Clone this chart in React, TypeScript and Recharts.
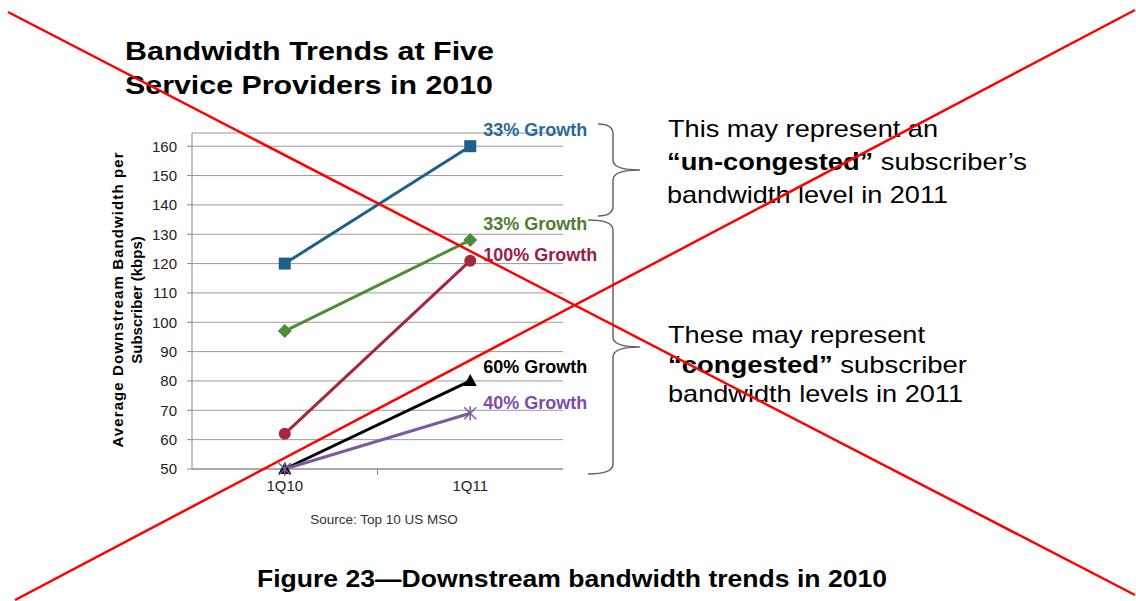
import React from 'react';
import { LineChart, Line, XAxis, YAxis, CartesianGrid } from 'recharts';

const categories = ['1Q10', '1Q11'];
const uncongestedValues = [120, 160];
const greenValues = [97, 128];
const redValues = [62, 121];
const blackValues = [50, 80];
const purpleValues = [50, 69];
const growthLabels = ['33% Growth', '33% Growth', '100% Growth', '60% Growth', '40% Growth'];
const yTicks = [50, 60, 70, 80, 90, 100, 110, 120, 130, 140, 150, 160];

const FONT = '"Liberation Sans", Arial, sans-serif';

const W = 1136;
const H = 601;
const MARGIN = { top: 133, right: 573, bottom: 102, left: 132 };
const Y_AXIS_W = 60;
const X_AXIS_H = 30;
const PLOT_X = MARGIN.left + Y_AXIS_W;
const PLOT_W = W - PLOT_X - MARGIN.right;
const PLOT_BOTTOM = H - MARGIN.bottom - X_AXIS_H;

const data = categories.map((c, i) => ({
  cat: c,
  blue: uncongestedValues[i],
  green: greenValues[i],
  red: redValues[i],
  black: blackValues[i],
  purple: purpleValues[i],
}));

const C = {
  blue: '#1F5F8A',
  green: '#4F8C3A',
  red: '#A2283C',
  black: '#000000',
  purple: '#7A5BA0',
  blueText: '#2B6A9A',
  greenText: '#4E7D30',
  redText: '#9A1B4C',
  blackText: '#000000',
  purpleText: '#7D4DAE',
};

const SquareDot = (p: any) => (p.cx == null ? null : <rect x={p.cx - 6} y={p.cy - 6} width={12} height={12} fill={C.blue} />);
const DiamondDot = (p: any) =>
  p.cx == null ? null : (
    <path d={`M${p.cx},${p.cy - 7} L${p.cx + 7},${p.cy} L${p.cx},${p.cy + 7} L${p.cx - 7},${p.cy} Z`} fill={C.green} />
  );
const CircleDot = (p: any) => (p.cx == null ? null : <circle cx={p.cx} cy={p.cy} r={6} fill={C.red} />);
const TriDot = (p: any) =>
  p.cx == null ? null : (
    <path d={`M${p.cx},${p.cy - 7} L${p.cx + 6.5},${p.cy + 5} L${p.cx - 6.5},${p.cy + 5} Z`} fill={C.black} />
  );
const StarDot = (p: any) =>
  p.cx == null ? null : (
    <g stroke={C.purple} strokeWidth={1.5}>
      <line x1={p.cx - 6} y1={p.cy - 6} x2={p.cx + 6} y2={p.cy + 6} />
      <line x1={p.cx - 6} y1={p.cy + 6} x2={p.cx + 6} y2={p.cy - 6} />
      <line x1={p.cx} y1={p.cy - 7} x2={p.cx} y2={p.cy + 7} />
    </g>
  );

const makeLabel = (text: string, color: string, dy: number) => (p: any) => {
  if (p.index !== 1) return null;
  return (
    <text
      x={p.x + 13}
      y={p.y + dy}
      fill={color}
      fontFamily={FONT}
      fontWeight="bold"
      fontSize={18}
      dominantBaseline="central"
    >
      {text}
    </text>
  );
};

const XTick = (p: any) => (
  <text x={p.x} y={p.y + 14} textAnchor="middle" fill="#222" fontFamily={FONT} fontSize={15}>
    {p.payload.value}
  </text>
);

const boundaryXs = categories.slice(1).map((_, i) => PLOT_X + (PLOT_W * (i + 1)) / categories.length);

const brace = (x0: number, xv: number, xt: number, y0: number, ym: number, y1: number) => {
  const r = 10;
  return `M${x0},${y0} Q${xv},${y0} ${xv},${y0 + r} L${xv},${ym - r} Q${xv},${ym} ${xt},${ym} Q${xv},${ym} ${xv},${ym + r} L${xv},${y1 - r} Q${xv},${y1} ${x0},${y1}`;
};

export default function App() {
  return (
    <div style={{ position: 'absolute', left: 0, top: 0, width: W, height: H, background: '#fff', fontFamily: FONT }}>
      <LineChart width={W} height={H} data={data} margin={MARGIN}>
        <CartesianGrid horizontal vertical={false} stroke="#9a9a9a" />
        <XAxis
          dataKey="cat"
          scale="band"
          height={X_AXIS_H}
          axisLine={{ stroke: '#888' }}
          tickLine={false}
          tick={<XTick />}
          interval={0}
        />
        <YAxis
          width={Y_AXIS_W}
          domain={[50, 164.5]}
          ticks={yTicks}
          interval={0}
          axisLine={{ stroke: '#888' }}
          tickLine={{ stroke: '#888' }}
          tickSize={5}
          tickMargin={10}
          tick={{ fill: '#222', fontSize: 15, fontFamily: FONT }}
        />
        <Line dataKey="black" stroke={C.black} strokeWidth={3} dot={<TriDot />} isAnimationActive={false} label={makeLabel(growthLabels[3], C.blackText, -14)} />
        <Line dataKey="purple" stroke={C.purple} strokeWidth={3} dot={<StarDot />} isAnimationActive={false} label={makeLabel(growthLabels[4], C.purpleText, -10)} />
        <Line dataKey="red" stroke={C.red} strokeWidth={3} dot={<CircleDot />} isAnimationActive={false} label={makeLabel(growthLabels[2], C.redText, -6)} />
        <Line dataKey="green" stroke={C.green} strokeWidth={3} dot={<DiamondDot />} isAnimationActive={false} label={makeLabel(growthLabels[1], C.greenText, -16)} />
        <Line dataKey="blue" stroke={C.blue} strokeWidth={3} dot={<SquareDot />} isAnimationActive={false} label={makeLabel(growthLabels[0], C.blueText, -16)} />
      </LineChart>
      <svg width={W} height={H} style={{ position: 'absolute', left: 0, top: 0, pointerEvents: 'none' }}>
        <g stroke="#888" strokeWidth={1}>
          {boundaryXs.map((x, i) => (
            <line key={i} x1={x} y1={PLOT_BOTTOM} x2={x} y2={PLOT_BOTTOM + 6} />
          ))}
        </g>
        <g fontFamily={FONT} fill="#000">
          <text x={125} y={60} fontSize={26} fontWeight="bold" textLength={369} lengthAdjust="spacingAndGlyphs">Bandwidth Trends at Five</text>
          <text x={125} y={94} fontSize={26} fontWeight="bold" textLength={368} lengthAdjust="spacingAndGlyphs">Service Providers in 2010</text>

          <g transform="translate(117,300) rotate(-90)">
            <text x={0} y={0} textAnchor="middle" dominantBaseline="central" fontSize={15} fontWeight="bold" textLength={295} lengthAdjust="spacing">Average Downstream Bandwidth per</text>
          </g>
          <g transform="translate(136,300) rotate(-90)">
            <text x={0} y={0} textAnchor="middle" dominantBaseline="central" fontSize={15} fontWeight="bold">Subscriber (kbps)</text>
          </g>

          <text x={384} y={524} textAnchor="middle" fontSize={13.5} fill="#333">Source: Top 10 US MSO</text>

          <text x={668} y={137} fontSize={24} textLength={270} lengthAdjust="spacingAndGlyphs">This may represent an</text>
          <text x={667} y={170} fontSize={24} textLength={360} lengthAdjust="spacingAndGlyphs">
            <tspan fontWeight="bold">“un-congested”</tspan> subscriber’s
          </text>
          <text x={667} y={203} fontSize={24} textLength={281} lengthAdjust="spacingAndGlyphs">bandwidth level in 2011</text>
          <text x={668} y={343} fontSize={24} textLength={257} lengthAdjust="spacingAndGlyphs">These may represent</text>
          <text x={668} y={373} fontSize={24} textLength={299} lengthAdjust="spacingAndGlyphs">
            <tspan fontWeight="bold">“congested”</tspan> subscriber
          </text>
          <text x={668} y={402} fontSize={24} textLength={295} lengthAdjust="spacingAndGlyphs">bandwidth levels in 2011</text>

          <text x={257} y={587} fontSize={24} fontWeight="bold" textLength={630} lengthAdjust="spacingAndGlyphs">Figure 23—Downstream bandwidth trends in 2010</text>
        </g>
        <g fill="none" stroke="#666" strokeWidth={1.5}>
          <path d={brace(598, 613, 640, 124, 170, 216)} />
          <path d={brace(588, 613, 640, 220, 347, 474)} />
        </g>
        <g stroke="#ff0000" strokeWidth={2.5}>
          <line x1={8} y1={12} x2={1135} y2={595} />
          <line x1={15} y1={600} x2={1135} y2={10} />
        </g>
      </svg>
    </div>
  );
}
